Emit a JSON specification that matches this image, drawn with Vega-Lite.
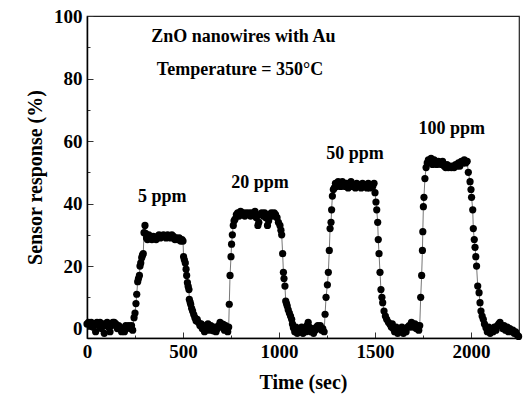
{
  "$schema": "https://vega.github.io/schema/vega-lite/v6.json",
  "width": 432,
  "height": 322,
  "autosize": {"type": "none"},
  "padding": {"left": 87, "top": 16, "right": 4, "bottom": 57},
  "background": "white",
  "config": {
    "view": {"stroke": "#222", "strokeWidth": 1.2},
    "font": "Liberation Serif",
    "axis": {
      "grid": false,
      "domainColor": "black",
      "domainWidth": 1.5,
      "tickColor": "#333",
      "tickWidth": 1,
      "labelFont": "Liberation Serif",
      "labelFontWeight": "bold",
      "labelFontSize": 19,
      "labelColor": "black",
      "titleFont": "Liberation Serif",
      "titleFontWeight": "bold",
      "titleFontSize": 20,
      "titleColor": "black"
    }
  },
  "datasets": {
    "series": [
      {"t": 0, "v": 1.5}, {"t": 8, "v": 2}, {"t": 15, "v": 1}, {"t": 22, "v": 2}, {"t": 30, "v": 0.5}, {"t": 38, "v": 1.5}, {"t": 45, "v": -1}, {"t": 52, "v": 2}, {"t": 60, "v": 1}, {"t": 68, "v": 2}, {"t": 75, "v": 0}, {"t": 82, "v": 1.5}, {"t": 90, "v": -1.5}, {"t": 98, "v": 1}, {"t": 105, "v": 2}, {"t": 112, "v": 0.5}, {"t": 120, "v": -1}, {"t": 128, "v": 1}, {"t": 135, "v": 2}, {"t": 142, "v": 2}, {"t": 150, "v": 1.5}, {"t": 158, "v": 0}, {"t": 165, "v": 1}, {"t": 172, "v": 0.5}, {"t": 180, "v": -1}, {"t": 188, "v": 0}, {"t": 195, "v": -1}, {"t": 202, "v": 1}, {"t": 210, "v": 0.5}, {"t": 218, "v": 1}, {"t": 225, "v": 0}, {"t": 232, "v": 1}, {"t": 238, "v": -0.5},
      {"t": 245, "v": 3.5}, {"t": 250, "v": 5}, {"t": 255, "v": 8}, {"t": 259, "v": 11}, {"t": 264, "v": 15}, {"t": 268, "v": 16}, {"t": 273, "v": 17}, {"t": 276, "v": 20}, {"t": 280, "v": 21}, {"t": 285, "v": 22.7}, {"t": 289, "v": 23.5}, {"t": 293, "v": 24}, {"t": 297, "v": 30.7}, {"t": 302, "v": 33},
      {"t": 305, "v": 30.5}, {"t": 310, "v": 29}, {"t": 315, "v": 28.5}, {"t": 322, "v": 30}, {"t": 330, "v": 29}, {"t": 338, "v": 28.5}, {"t": 345, "v": 29.5}, {"t": 352, "v": 29}, {"t": 360, "v": 28.5}, {"t": 368, "v": 29.5}, {"t": 375, "v": 30}, {"t": 382, "v": 29}, {"t": 390, "v": 29.5}, {"t": 398, "v": 30}, {"t": 405, "v": 29.5}, {"t": 412, "v": 29}, {"t": 420, "v": 30}, {"t": 428, "v": 29.5}, {"t": 435, "v": 29}, {"t": 442, "v": 30}, {"t": 450, "v": 29.5}, {"t": 458, "v": 28.5}, {"t": 465, "v": 29}, {"t": 472, "v": 28.5}, {"t": 480, "v": 29}, {"t": 488, "v": 28}, {"t": 495, "v": 28.5},
      {"t": 500, "v": 28}, {"t": 503, "v": 23}, {"t": 507, "v": 22}, {"t": 512, "v": 21}, {"t": 516, "v": 19}, {"t": 519, "v": 17}, {"t": 523, "v": 14.7}, {"t": 527, "v": 13.5}, {"t": 531, "v": 12.5}, {"t": 533, "v": 9.4}, {"t": 537, "v": 8.5}, {"t": 540, "v": 7.8}, {"t": 545, "v": 6.5}, {"t": 550, "v": 5.6}, {"t": 556, "v": 4.5}, {"t": 562, "v": 3.5}, {"t": 568, "v": 2.5}, {"t": 574, "v": 3},
      {"t": 580, "v": 2}, {"t": 588, "v": 1}, {"t": 595, "v": 1.5}, {"t": 600, "v": 0}, {"t": 606, "v": 0.3}, {"t": 612, "v": -1}, {"t": 618, "v": 1}, {"t": 623, "v": 0}, {"t": 630, "v": 1.5}, {"t": 637, "v": -0.5}, {"t": 645, "v": 1}, {"t": 652, "v": 0}, {"t": 658, "v": -0.7}, {"t": 665, "v": 0.5}, {"t": 672, "v": -1}, {"t": 680, "v": 0}, {"t": 686, "v": 1}, {"t": 693, "v": 2}, {"t": 700, "v": 1.5}, {"t": 705, "v": 0.5}, {"t": 710, "v": 1.4}, {"t": 716, "v": -0.5}, {"t": 722, "v": 1}, {"t": 727, "v": 0}, {"t": 733, "v": -1}, {"t": 738, "v": 0.5},
      {"t": 741, "v": 7.8}, {"t": 745, "v": 17}, {"t": 750, "v": 23}, {"t": 753, "v": 27}, {"t": 757, "v": 30}, {"t": 762, "v": 33}, {"t": 766, "v": 34.5},
      {"t": 771, "v": 35}, {"t": 778, "v": 36.5}, {"t": 785, "v": 37}, {"t": 792, "v": 36}, {"t": 800, "v": 37.5}, {"t": 808, "v": 36.5}, {"t": 815, "v": 37}, {"t": 822, "v": 36}, {"t": 830, "v": 37}, {"t": 838, "v": 36.5}, {"t": 845, "v": 37}, {"t": 852, "v": 36}, {"t": 860, "v": 37}, {"t": 868, "v": 36.5}, {"t": 875, "v": 37.5}, {"t": 882, "v": 35.5}, {"t": 890, "v": 33}, {"t": 895, "v": 34}, {"t": 902, "v": 36.5}, {"t": 910, "v": 37}, {"t": 918, "v": 36}, {"t": 925, "v": 37}, {"t": 932, "v": 35.5}, {"t": 940, "v": 33}, {"t": 946, "v": 34.5}, {"t": 952, "v": 36.5}, {"t": 960, "v": 37}, {"t": 968, "v": 36}, {"t": 975, "v": 37}, {"t": 982, "v": 36.5}, {"t": 990, "v": 35.5}, {"t": 997, "v": 34},
      {"t": 1005, "v": 33}, {"t": 1010, "v": 31.5}, {"t": 1014, "v": 30}, {"t": 1019, "v": 24}, {"t": 1023, "v": 18}, {"t": 1026, "v": 16}, {"t": 1031, "v": 13.6}, {"t": 1035, "v": 8.8}, {"t": 1039, "v": 8}, {"t": 1043, "v": 7.2}, {"t": 1048, "v": 6}, {"t": 1054, "v": 5}, {"t": 1060, "v": 4}, {"t": 1066, "v": 3}, {"t": 1070, "v": 1.5},
      {"t": 1075, "v": 0.3}, {"t": 1082, "v": -1}, {"t": 1088, "v": 0.5}, {"t": 1095, "v": -1.5}, {"t": 1102, "v": 0}, {"t": 1110, "v": -1}, {"t": 1118, "v": 0.5}, {"t": 1125, "v": -1.5}, {"t": 1132, "v": 0}, {"t": 1140, "v": -1}, {"t": 1146, "v": 1}, {"t": 1152, "v": 2}, {"t": 1158, "v": 0.5}, {"t": 1165, "v": -1}, {"t": 1172, "v": 0}, {"t": 1180, "v": -1.5}, {"t": 1188, "v": -0.5}, {"t": 1195, "v": 0.5}, {"t": 1202, "v": 1}, {"t": 1208, "v": 0}, {"t": 1215, "v": 1}, {"t": 1222, "v": -0.5}, {"t": 1228, "v": 0}, {"t": 1235, "v": -1},
      {"t": 1240, "v": 4.6}, {"t": 1245, "v": 10}, {"t": 1252, "v": 14}, {"t": 1257, "v": 18}, {"t": 1262, "v": 25}, {"t": 1266, "v": 32}, {"t": 1271, "v": 34}, {"t": 1274, "v": 38}, {"t": 1278, "v": 42.4}, {"t": 1283, "v": 44.5},
      {"t": 1288, "v": 45}, {"t": 1294, "v": 46.5}, {"t": 1300, "v": 45.5}, {"t": 1308, "v": 47}, {"t": 1315, "v": 46}, {"t": 1322, "v": 45.5}, {"t": 1330, "v": 47}, {"t": 1338, "v": 46}, {"t": 1345, "v": 45.5}, {"t": 1352, "v": 46.5}, {"t": 1360, "v": 45}, {"t": 1368, "v": 46}, {"t": 1375, "v": 47}, {"t": 1382, "v": 45.5}, {"t": 1390, "v": 46}, {"t": 1398, "v": 45}, {"t": 1405, "v": 46.5}, {"t": 1412, "v": 45.5}, {"t": 1420, "v": 46}, {"t": 1428, "v": 45}, {"t": 1435, "v": 46.5}, {"t": 1442, "v": 45.5}, {"t": 1450, "v": 46}, {"t": 1458, "v": 45}, {"t": 1465, "v": 46.5}, {"t": 1472, "v": 45}, {"t": 1480, "v": 46}, {"t": 1488, "v": 45.5}, {"t": 1495, "v": 46.5},
      {"t": 1500, "v": 43.5}, {"t": 1505, "v": 40.5}, {"t": 1509, "v": 38}, {"t": 1514, "v": 34}, {"t": 1517, "v": 28.5}, {"t": 1521, "v": 24}, {"t": 1526, "v": 18}, {"t": 1531, "v": 12.5}, {"t": 1536, "v": 10}, {"t": 1540, "v": 8.3}, {"t": 1547, "v": 5.6}, {"t": 1554, "v": 4}, {"t": 1561, "v": 3}, {"t": 1570, "v": 2},
      {"t": 1578, "v": 1.4}, {"t": 1585, "v": 0.5}, {"t": 1590, "v": 1.5}, {"t": 1595, "v": 0}, {"t": 1602, "v": -1}, {"t": 1610, "v": 0.5}, {"t": 1618, "v": -1.5}, {"t": 1625, "v": 0}, {"t": 1632, "v": -1}, {"t": 1640, "v": 0.5}, {"t": 1648, "v": -1.5}, {"t": 1655, "v": -0.5}, {"t": 1662, "v": -1}, {"t": 1670, "v": 0.5}, {"t": 1678, "v": 1}, {"t": 1685, "v": 0.5}, {"t": 1690, "v": 2}, {"t": 1696, "v": 1}, {"t": 1702, "v": 0.5}, {"t": 1708, "v": 1.5}, {"t": 1715, "v": 0}, {"t": 1722, "v": 1}, {"t": 1728, "v": -0.5}, {"t": 1733, "v": 1},
      {"t": 1738, "v": 10}, {"t": 1743, "v": 17}, {"t": 1747, "v": 25}, {"t": 1749, "v": 31}, {"t": 1752, "v": 39}, {"t": 1755, "v": 42}, {"t": 1760, "v": 48}, {"t": 1766, "v": 51.5}, {"t": 1772, "v": 53},
      {"t": 1778, "v": 54}, {"t": 1785, "v": 53}, {"t": 1792, "v": 54.5}, {"t": 1800, "v": 52.5}, {"t": 1808, "v": 54}, {"t": 1815, "v": 53.5}, {"t": 1822, "v": 52.5}, {"t": 1830, "v": 53.5}, {"t": 1838, "v": 53}, {"t": 1845, "v": 52.5}, {"t": 1852, "v": 53.5}, {"t": 1860, "v": 52}, {"t": 1868, "v": 51.5}, {"t": 1875, "v": 52.5}, {"t": 1882, "v": 51.5}, {"t": 1890, "v": 52}, {"t": 1898, "v": 51.5}, {"t": 1905, "v": 52}, {"t": 1912, "v": 51.5}, {"t": 1920, "v": 52.5}, {"t": 1928, "v": 52}, {"t": 1935, "v": 53}, {"t": 1942, "v": 52}, {"t": 1950, "v": 53.5}, {"t": 1958, "v": 53}, {"t": 1965, "v": 54}, {"t": 1972, "v": 53}, {"t": 1980, "v": 53.5},
      {"t": 1986, "v": 50}, {"t": 1995, "v": 47}, {"t": 2000, "v": 44.5}, {"t": 2003, "v": 42}, {"t": 2009, "v": 38}, {"t": 2012, "v": 32}, {"t": 2017, "v": 28.5}, {"t": 2021, "v": 26}, {"t": 2025, "v": 23}, {"t": 2029, "v": 20}, {"t": 2035, "v": 13.6}, {"t": 2042, "v": 11.5}, {"t": 2047, "v": 8.3}, {"t": 2052, "v": 5.6}, {"t": 2058, "v": 4}, {"t": 2064, "v": 3}, {"t": 2070, "v": 1.5},
      {"t": 2078, "v": 0.3}, {"t": 2085, "v": -1}, {"t": 2092, "v": 0.5}, {"t": 2100, "v": -1.5}, {"t": 2108, "v": 0}, {"t": 2115, "v": -1}, {"t": 2122, "v": 0.5}, {"t": 2130, "v": -0.5}, {"t": 2138, "v": 1}, {"t": 2145, "v": 1.5}, {"t": 2151, "v": 2}, {"t": 2158, "v": 1}, {"t": 2165, "v": 0}, {"t": 2172, "v": 1}, {"t": 2180, "v": -0.5}, {"t": 2188, "v": 0.5}, {"t": 2195, "v": -1}, {"t": 2202, "v": 0}, {"t": 2210, "v": -1}, {"t": 2218, "v": -0.5}, {"t": 2225, "v": -1.5}, {"t": 2232, "v": -1}, {"t": 2240, "v": -2}, {"t": 2248, "v": -2.5}
    ],
    "notes": [
      {"t": 392, "v": 42, "label": "5 ppm"},
      {"t": 901, "v": 46.6, "label": "20 ppm"},
      {"t": 1396, "v": 56, "label": "50 ppm"},
      {"t": 1900, "v": 64, "label": "100 ppm"},
      {"t": 814, "v": 93.3, "label": "ZnO nanowires with Au"},
      {"t": 797, "v": 82.7, "label": "Temperature = 350°C"}
    ]
  },
  "encoding": {
    "x": {
      "field": "t", "type": "quantitative",
      "scale": {"domain": [0, 2250], "nice": false, "zero": false},
      "axis": {
        "title": "Time (sec)",
        "values": [0, 250, 500, 750, 1000, 1250, 1500, 1750, 2000, 2250],
        "labelExpr": "datum.value % 500 === 0 ? datum.label : ''",
        "format": "d",
        "tickSize": {"condition": {"test": "datum.value % 500 === 0", "value": -6}, "value": -3},
        "labelPadding": 10,
        "titlePadding": 8,
        "labelFlush": false,
        "labelOverlap": false
      }
    },
    "y": {
      "field": "v", "type": "quantitative",
      "scale": {"domain": [-3, 100], "nice": false, "zero": false},
      "axis": {
        "title": "Sensor response (%)",
        "values": [0, 10, 20, 30, 40, 50, 60, 70, 80, 90, 100],
        "labelExpr": "datum.value % 20 === 0 ? datum.label : ''",
        "tickSize": {"condition": {"test": "datum.value % 20 === 0", "value": -6}, "value": -3},
        "labelPadding": 11,
        "titlePadding": 8,
        "labelFlush": false,
        "labelOverlap": false
      }
    }
  },
  "layer": [
    {
      "data": {"name": "series"},
      "mark": {"type": "line", "color": "#777", "strokeWidth": 1},
      "encoding": {}
    },
    {
      "data": {"name": "series"},
      "mark": {"type": "point", "filled": true, "color": "black", "opacity": 1, "size": 52},
      "encoding": {}
    },
    {
      "data": {"name": "notes"},
      "mark": {"type": "text", "font": "Liberation Serif", "fontWeight": "bold", "fontSize": 18, "color": "black", "align": "center", "baseline": "middle"},
      "encoding": {"text": {"field": "label"}}
    }
  ]
}
